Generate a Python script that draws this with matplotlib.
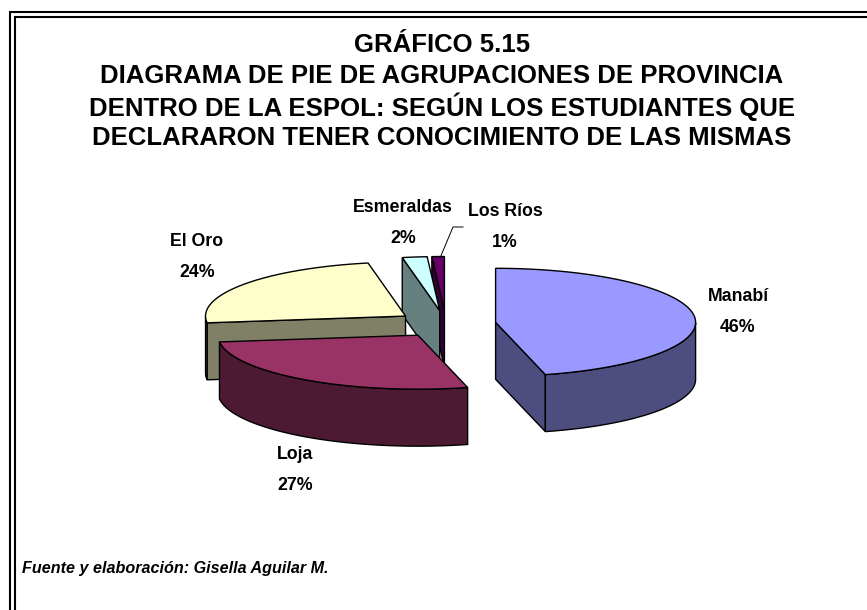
import numpy as np
import matplotlib
matplotlib.use("Agg")
from matplotlib import pyplot as plt
from matplotlib.patches import Polygon

# datos del grafico
provincias = ['Manabí', 'Loja', 'El Oro', 'Esmeraldas', 'Los Ríos']
porcentajes = [46, 27, 24, 2, 1]
colores_top = ['#9999FF', '#993366', '#FFFFCC', '#CCFFFF', '#660066']

titulo = ['GRÁFICO 5.15',
          'DIAGRAMA DE PIE DE AGRUPACIONES DE PROVINCIA',
          'DENTRO DE LA ESPOL: SEGÚN LOS ESTUDIANTES QUE',
          'DECLARARON TENER CONOCIMIENTO DE LAS MISMAS']
fuente = 'Fuente y elaboración: Gisella Aguilar M.'

# geometria del pie 3d (pixeles)
cx, cy = 446, 324
r = 200
k = 0.27
h = 57
explode = 50
label_xy = [(738, 312), (295, 470), (197, 257), (403, 223), (505, 227)]

plt.rcParams['font.family'] = ['Liberation Sans', 'DejaVu Sans']

fig = plt.figure(figsize=(8.67, 6.10), dpi=100)
ax = fig.add_axes([0, 0, 1, 1])
ax.set_xlim(0, 867)
ax.set_ylim(610, 0)
ax.axis('off')


def darker(c):
    rgb = np.array(matplotlib.colors.to_rgb(c))
    return tuple(rgb * 0.5)


def pt(x0, y0, t, dz=0):
    return (x0 + r * np.cos(t), y0 - r * k * np.sin(t) + dz)


total = float(sum(porcentajes))
slices = []
a = 90.0
for i, v in enumerate(porcentajes):
    t1 = np.radians(a)
    t2 = np.radians(a - 360.0 * v / total)
    a = a - 360.0 * v / total
    mid = (t1 + t2) / 2
    x0 = cx + explode * np.cos(mid)
    y0 = cy - explode * k * np.sin(mid)
    slices.append((i, t1, t2, mid, x0, y0))

# dibujar de atras hacia adelante
orden = sorted(slices, key=lambda s: -np.sin(s[3]))
for i, t1, t2, mid, x0, y0 in orden:
    top = colores_top[i]
    side = darker(top)
    # paredes radiales visibles
    if np.cos(t1) < -1e-6:
        e = pt(x0, y0, t1)
        ax.add_patch(Polygon([(x0, y0), e, (e[0], e[1] + h), (x0, y0 + h)],
                             closed=True, fc=side, ec='black', lw=1.0, zorder=2))
    if np.cos(t2) > 1e-6:
        e = pt(x0, y0, t2)
        ax.add_patch(Polygon([(x0, y0), e, (e[0], e[1] + h), (x0, y0 + h)],
                             closed=True, fc=side, ec='black', lw=1.0, zorder=2))
    # pared curva (parte frontal)
    ts = np.linspace(t1, t2, 200)
    front = ts[np.sin(ts) < 0]
    if len(front) > 1:
        arriba = [pt(x0, y0, t) for t in front]
        abajo = [pt(x0, y0, t, h) for t in front[::-1]]
        ax.add_patch(Polygon(arriba + abajo, closed=True, fc=side,
                             ec='black', lw=1.0, zorder=2))
    # cara superior
    arco = [pt(x0, y0, t) for t in ts]
    ax.add_patch(Polygon([(x0, y0)] + arco, closed=True, fc=top,
                         ec='black', lw=1.0, zorder=2))

for i, (x, y) in enumerate(label_xy):
    ax.text(x, y, '%s\n%d%%' % (provincias[i], porcentajes[i]), ha='center',
            va='center', fontsize=12.8, fontweight='bold', linespacing=2.1, zorder=3)

# linea guia Los Rios
ax.plot([463, 453, 440], [227, 227, 258], color='black', lw=0.7, zorder=3)

for j, linea in enumerate(titulo):
    ax.text(442, 45 + 31 * j, linea, ha='center', va='center',
            fontsize=18.5, fontweight='bold')

ax.text(22, 568, fuente, ha='left', va='center', fontsize=11.6,
        fontweight='bold', fontstyle='italic')

# marco doble
ax.plot([10, 10, 870], [620, 11.5, 11.5], color='black', lw=1.5,
        solid_joinstyle='miter')
ax.plot([14.5, 14.5, 870], [620, 16.5, 16.5], color='black', lw=1.5,
        solid_joinstyle='miter')

plt.savefig('out.png', dpi=100)
